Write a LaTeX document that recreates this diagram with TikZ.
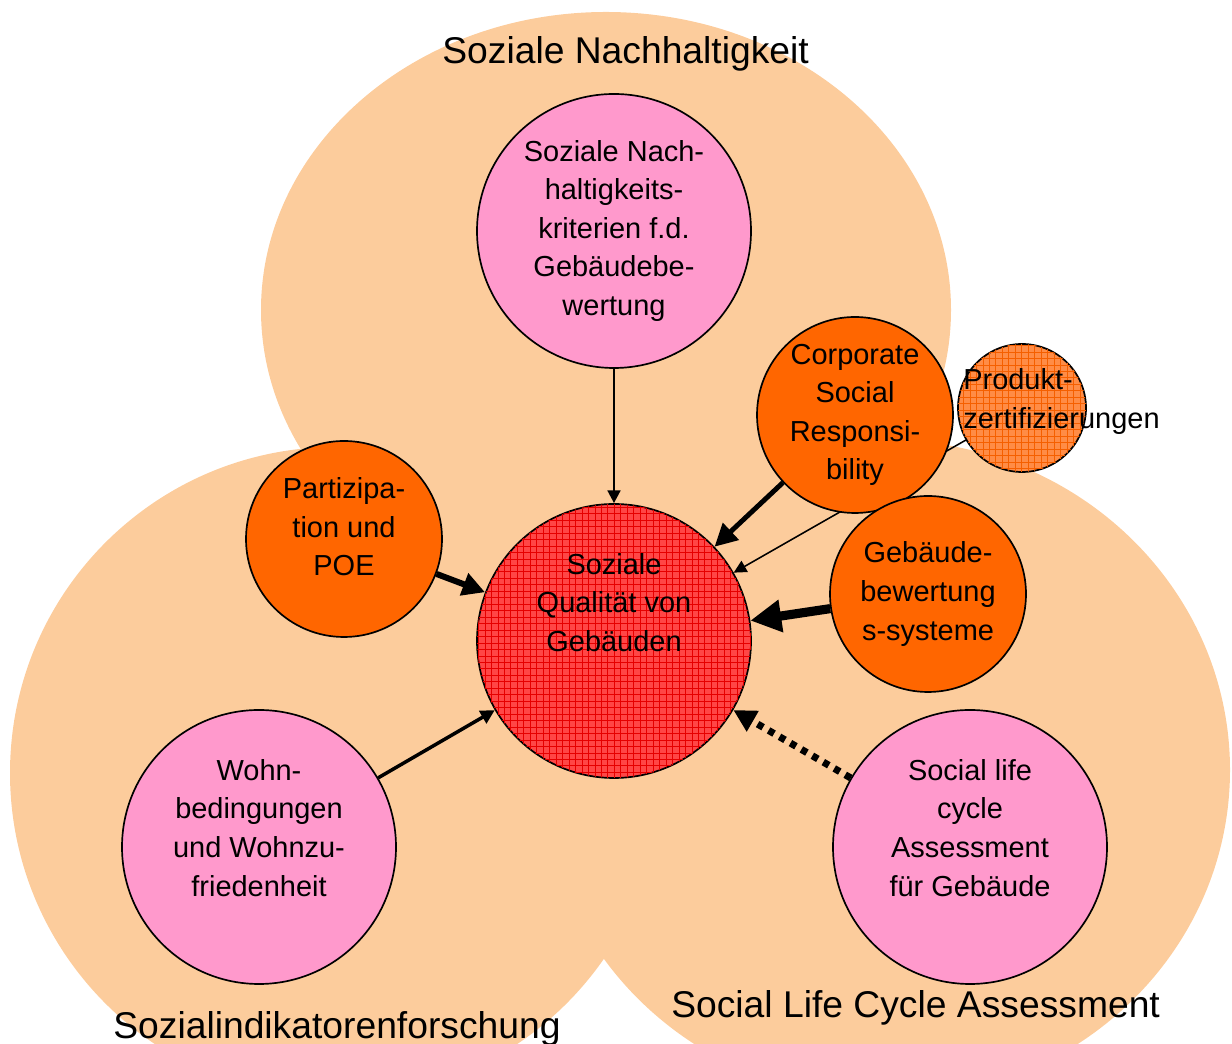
\documentclass[tikz,border=0pt]{standalone}
\usepackage{fontspec}
\setmainfont{Liberation Sans}
\usetikzlibrary{arrows.meta,patterns}

\definecolor{peach}{RGB}{252,204,156}
\definecolor{rosa}{RGB}{255,153,204}
\definecolor{orangeball}{RGB}{255,102,0}
\definecolor{qualred}{RGB}{255,70,70}
\definecolor{gridred}{RGB}{230,0,0}
\definecolor{prodorange}{RGB}{255,140,70}
\definecolor{gridorange}{RGB}{245,95,0}

% fine grid for the hatched balls
\pgfdeclarepatternformonly{finegrid}{\pgfqpoint{-0.5pt}{-0.5pt}}{\pgfqpoint{5pt}{5pt}}{\pgfqpoint{4.6pt}{4.6pt}}{%
  \pgfsetlinewidth{0.6pt}
  \pgfpathmoveto{\pgfqpoint{0pt}{0pt}}\pgfpathlineto{\pgfqpoint{4.7pt}{0pt}}
  \pgfpathmoveto{\pgfqpoint{0pt}{0pt}}\pgfpathlineto{\pgfqpoint{0pt}{4.7pt}}
  \pgfusepath{stroke}}

\newcommand{\bodysize}{\fontsize{20.6pt}{27.4pt}\selectfont}
\newcommand{\areasize}{\fontsize{26.5pt}{32pt}\selectfont}

\tikzset{
  ball/.style={circle,draw=black,line width=1.2pt,inner sep=0pt,align=center,font=\bodysize},
  bigball/.style={ball,minimum size=6.85cm,fill=rosa},
  smallball/.style={ball,minimum size=4.9cm,fill=orangeball},
  area/.style={font=\areasize,anchor=base,inner sep=0pt},
  link/.style 2 args={line width=#1,-{Triangle[length=#2,width=#2]}}
}

\begin{document}
\begin{tikzpicture}
  \useasboundingbox (0,0) rectangle (30.8,26.1);

  % the three research fields
  \fill[peach] (15.15,18.35) ellipse [x radius=8.625, y radius=7.45];
  \fill[peach] (8.4,6.775) circle [radius=8.15];
  \fill[peach] (22.15,6.85) ellipse [x radius=8.6, y radius=8.25];

  \node[bigball] (crit) at (15.35,20.325)
    {Soziale Nach-\\haltigkeits-\\kriterien f.d.\\Gebäudebe-\\wertung};
  \node[bigball,fill=qualred,postaction={pattern=finegrid,pattern color=gridred}]
    (qual) at (15.35,10.075) {Soziale\\Qualität von\\Gebäuden\\~\\~};
  \node[smallball] (part) at (8.6,12.625) {Partizipa-\\tion und\\POE\\[-0.5em]~};
  \node[bigball] (wohn) at (6.475,4.925)
    {Wohn-\\bedingungen\\und Wohnzu-\\friedenheit\\~};

  % product line runs behind the CSR ball
  \node[ball,minimum size=3.2cm,fill=prodorange,
    postaction={pattern=finegrid,pattern color=gridorange}] (prod) at (25.55,15.9) {};
  \draw[link={1.1pt}{9pt}] (prod) -- (qual);

  \node[smallball] (csr) at (21.375,15.725) {Corporate\\Social\\Responsi-\\bility};
  \node[smallball] (bew) at (23.2,11.25) {Gebäude-\\bewertung\\s-systeme};
  \node[bigball] (slca) at (24.25,4.925)
    {Social life\\cycle\\Assessment\\für Gebäude\\~};
  \node[font=\bodysize,align=left,anchor=west,inner sep=0pt] (prodtxt)
    at (24.075,16.06) {Produkt-\\zertifizierungen};

  \draw[link={1.8pt}{9pt}] (crit) -- (qual);
  \draw[link={3.5pt}{16pt}] (csr) -- (qual);
  \draw[link={6.5pt}{22pt}] (bew) -- (qual);
  \draw[link={4.3pt}{16pt}] (part) -- (qual);
  \draw[link={2.5pt}{10pt}] (wohn) -- (qual);
  \draw[link={5pt}{16pt},dash pattern=on 4.5pt off 4.5pt] (slca) -- (qual);

  \node[area] (nachh) at (15.64,24.5) {Soziale Nachhaltigkeit};
  \node[area] (indik) at (8.425,0.14) {Sozialindikatorenforschung};
  \node[area] (lca) at (22.89,0.66) {Social Life Cycle Assessment};
\end{tikzpicture}
\end{document}
